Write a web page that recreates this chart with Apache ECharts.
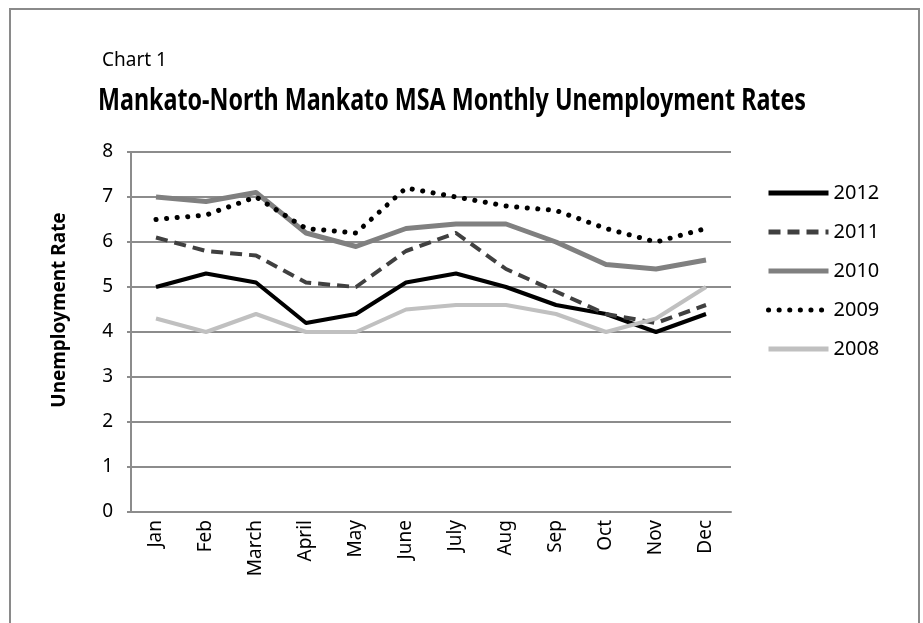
<!DOCTYPE html>
<html>
<head>
<meta charset="utf-8">
<script src="https://cdn.jsdelivr.net/npm/echarts@6/dist/echarts.min.js"></script>
<style>
  html, body { margin: 0; padding: 0; background: #fff; }
  #chart { width: 923px; height: 623px; }
</style>
</head>
<body>
<div id="chart"></div>
<script>
// months on the x axis
const months = ['Jan', 'Feb', 'March', 'April', 'May', 'June', 'July', 'Aug', 'Sep', 'Oct', 'Nov', 'Dec'];
const yTicks = [0, 1, 2, 3, 4, 5, 6, 7, 8];

// rates
const rate2012 = [5.0, 5.3, 5.1, 4.2, 4.4, 5.1, 5.3, 5.0, 4.6, 4.4, 4.0, 4.4];
const rate2011 = [6.1, 5.8, 5.7, 5.1, 5.0, 5.8, 6.2, 5.4, 4.9, 4.4, 4.2, 4.6];
const rate2010 = [7.0, 6.9, 7.1, 6.2, 5.9, 6.3, 6.4, 6.4, 6.0, 5.5, 5.4, 5.6];
const rate2009 = [6.5, 6.6, 7.0, 6.3, 6.2, 7.2, 7.0, 6.8, 6.7, 6.3, 6.0, 6.3];
const rate2008 = [4.3, 4.0, 4.4, 4.0, 4.0, 4.5, 4.6, 4.6, 4.4, 4.0, 4.3, 5.0];

const font = '"Noto Sans", "Open Sans", sans-serif';

const chart = echarts.init(document.getElementById('chart'));

function lineSeries(name, data, color, type, width, cap) {
  return {
    name: name,
    type: 'line',
    data: data,
    symbol: 'none',
    animation: false,
    lineStyle: { color: color, width: width, type: type, cap: cap || 'butt', join: 'round' },
    itemStyle: { color: color }
  };
}

const option = {
  backgroundColor: '#fff',
  animation: false,
  title: [
    {
      text: 'Chart 1',
      left: 97, top: 46,
      textStyle: { fontFamily: font, fontSize: 19, fontWeight: 'normal', color: '#000' }
    }
  ],
  graphic: [
    {
      type: 'rect',
      shape: { x: 10, y: 9, width: 909, height: 700 },
      style: { fill: 'none', stroke: '#8a8a8a', lineWidth: 2 },
      silent: true
    },
    {
      // condensed bold heading, squeezed horizontally
      type: 'text',
      x: 98, y: 86,
      scaleX: 0.776,
      style: {
        text: 'Mankato-North Mankato MSA Monthly Unemployment Rates',
        font: 'bold 30px "Noto Sans", sans-serif',
        fill: '#000'
      }
    }
  ],
  grid: { left: 131, right: 192, top: 152, bottom: 111 },
  legend: {
    orient: 'vertical',
    left: 761, top: 178,
    itemWidth: 60, itemHeight: 14, itemGap: 19,
    itemStyle: { opacity: 0 },
    lineStyle: { width: 5 },
    textStyle: { fontFamily: font, fontSize: 20, color: '#000' },
    data: ['2012', '2011', '2010', '2009', '2008']
  },
  xAxis: {
    type: 'category',
    data: months,
    boundaryGap: true,
    axisLine: { show: true, lineStyle: { color: '#8c8c8c', width: 2 } },
    axisTick: { show: false },
    axisLabel: { rotate: 90, margin: 8, fontFamily: font, fontSize: 19, color: '#000' }
  },
  yAxis: {
    type: 'value',
    min: yTicks[0], max: yTicks[yTicks.length - 1], interval: 1,
    name: 'Unemployment Rate',
    nameLocation: 'middle',
    nameGap: 62,
    nameTextStyle: { fontFamily: font, fontSize: 19, fontWeight: 'bold', color: '#000', padding: [0, 0, 0, 44] },
    axisLine: { show: true, lineStyle: { color: '#8c8c8c', width: 2 } },
    axisTick: { show: true, length: 4, lineStyle: { color: '#8c8c8c', width: 2 } },
    axisLabel: { margin: 18, fontFamily: font, fontSize: 19, color: '#000' },
    splitLine: { show: true, lineStyle: { color: '#8c8c8c', width: 2 } }
  },
  series: [
    lineSeries('2012', rate2012, '#000000', 'solid', 4),
    lineSeries('2011', rate2011, '#404040', [12, 7], 4),
    lineSeries('2010', rate2010, '#808080', 'solid', 5),
    lineSeries('2009', rate2009, '#000000', [0.1, 10.5], 5, 'round'),
    lineSeries('2008', rate2008, '#c0c0c0', 'solid', 4)
  ]
};

chart.setOption(option);
</script>
</body>
</html>
